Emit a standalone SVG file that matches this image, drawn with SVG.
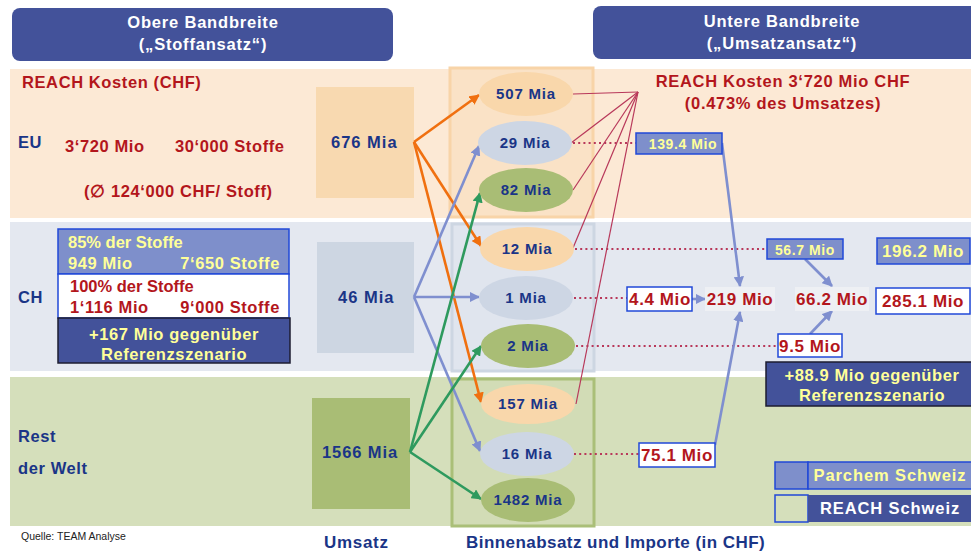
<svg xmlns="http://www.w3.org/2000/svg" width="971" height="553" viewBox="0 0 971 553">
<defs>
<marker id="mo" viewBox="0 0 10 10" refX="9" refY="5" markerWidth="4" markerHeight="4" orient="auto" markerUnits="strokeWidth"><path d="M0,0 L10,5 L0,10 z" fill="#f07010"/></marker>
<marker id="mb" viewBox="0 0 10 10" refX="9" refY="5" markerWidth="4" markerHeight="4" orient="auto" markerUnits="strokeWidth"><path d="M0,0 L10,5 L0,10 z" fill="#7f8fcf"/></marker>
<marker id="mg" viewBox="0 0 10 10" refX="9" refY="5" markerWidth="4" markerHeight="4" orient="auto" markerUnits="strokeWidth"><path d="M0,0 L10,5 L0,10 z" fill="#2e9a5e"/></marker>
</defs>
<style>
text{font-family:"Liberation Sans",Arial,sans-serif;font-weight:bold}
.hdr{fill:#43529a}
.ht{fill:#fff;font-size:16.5px;text-anchor:middle;letter-spacing:0.8px}
.navy{fill:#1a3587}
.red{fill:#b3161c}
.yel{fill:#ffff99}
.wh{fill:#fff}
.ell{font-size:15px;text-anchor:middle;fill:#1a3587;letter-spacing:0.8px}
.big{font-size:16.5px;letter-spacing:0.6px}
.mid{font-size:17px;text-anchor:middle;letter-spacing:0.6px}
.sm{font-size:14px;text-anchor:middle;letter-spacing:0.6px}
.lo{stroke:#f07010;stroke-width:2.6;fill:none;marker-end:url(#mo)}
.lb{stroke:#7f8fcf;stroke-width:2.6;fill:none;marker-end:url(#mb)}
.lg{stroke:#2e9a5e;stroke-width:2.6;fill:none;marker-end:url(#mg)}
.lr{stroke:#b8385a;stroke-width:1.2;fill:none}
.ld{stroke:#b8385a;stroke-width:2;fill:none;stroke-dasharray:2 3.2}
.bx1{fill:#7e8fcb;stroke:#2048d8;stroke-width:1.5}
.bx2{fill:#fff;stroke:#2048d8;stroke-width:1.5}
.bx3{fill:#43529a;stroke:#1c1c30;stroke-width:1.5}
.lt{fill:#eef0f4}
</style>

<g id="bands">
<rect x="10" y="69" width="961" height="149" fill="#fce9d5"/>
<rect x="10" y="222" width="961" height="149" fill="#e4e8f0"/>
<rect x="10" y="377" width="961" height="149" fill="#d5dfbb"/>
</g>

<g id="header-left">
<rect class="hdr" x="12" y="8" width="381" height="53" rx="8"/>
<text class="ht" x="203" y="28">Obere Bandbreite</text>
<text class="ht" x="203" y="50">(„Stoffansatz“)</text>
</g>
<g id="header-right">
<rect class="hdr" x="593" y="6" width="385" height="53" rx="8"/>
<text class="ht" x="782" y="27">Untere Bandbreite</text>
<text class="ht" x="782" y="49">(„Umsatzansatz“)</text>
</g>

<g id="col-eu"><rect x="450" y="68" width="143" height="149" fill="#fae2c6" stroke="#f8d4a8" stroke-width="3"/></g>
<g id="col-ch"><rect x="452" y="224" width="142" height="147" fill="#e0e5ee" stroke="#cdd6e2" stroke-width="3"/></g>
<g id="col-rw"><rect x="452" y="379" width="142" height="147" fill="#d2dcb6" stroke="#aabf78" stroke-width="3"/></g>

<g id="eu-labels">
<text class="red big" x="22" y="88">REACH Kosten (CHF)</text>
<text class="navy big" x="18" y="148">EU</text>
<text class="red big" x="65" y="152">3‘720 Mio</text>
<text class="red big" x="175" y="152">30‘000 Stoffe</text>
<text class="red big" x="84" y="197">(∅ 124‘000 CHF/ Stoff)</text>
</g>
<g id="eu-umsatz">
<rect x="316" y="87" width="98" height="111" fill="#f8d9b0"/>
<text class="navy big" x="331" y="148" style="letter-spacing:1px">676 Mia</text>
</g>

<g id="ch-label"><text class="navy big" x="18" y="303">CH</text></g>
<g id="ch-85">
<rect class="bx1" x="58" y="229" width="231" height="45"/>
<text class="yel big" x="68" y="248" style="letter-spacing:0">85% der Stoffe</text>
<text class="yel big" x="68" y="269">949 Mio</text>
<text class="yel big" x="280" y="269" text-anchor="end">7‘650 Stoffe</text>
</g>
<g id="ch-100">
<rect class="bx2" x="58" y="274" width="231" height="44"/>
<text class="red big" x="70" y="292" style="letter-spacing:0">100% der Stoffe</text>
<text class="red big" x="70" y="313">1‘116 Mio</text>
<text class="red big" x="280" y="313" text-anchor="end">9‘000 Stoffe</text>
</g>
<g id="ch-167">
<rect class="bx3" x="58" y="318" width="232" height="45"/>
<text class="yel big" x="174" y="340" text-anchor="middle">+167 Mio gegenüber</text>
<text class="yel big" x="174" y="360" text-anchor="middle">Referenzszenario</text>
</g>
<g id="ch-umsatz">
<rect x="317" y="242" width="97" height="111" fill="#cdd6e2"/>
<text class="navy big" x="338" y="303" style="letter-spacing:1px">46 Mia</text>
</g>

<g id="rw-label">
<text class="navy big" x="18" y="442">Rest</text>
<text class="navy big" x="18" y="474">der Welt</text>
</g>
<g id="rw-umsatz">
<rect x="312" y="398" width="98" height="111" fill="#a9bd75"/>
<text class="navy big" x="322" y="458" style="letter-spacing:0.9px">1566 Mia</text>
</g>

<g id="connectors">
<line class="lo" x1="414" y1="142" x2="479" y2="95"/>
<line class="lo" x1="414" y1="142" x2="481" y2="246"/>
<line class="lo" x1="414" y1="142" x2="481" y2="402"/>
<line class="lb" x1="414" y1="297" x2="479" y2="146"/>
<line class="lb" x1="414" y1="297" x2="479" y2="297"/>
<line class="lb" x1="414" y1="297" x2="480" y2="451"/>
<line class="lg" x1="410" y1="452" x2="480" y2="193"/>
<line class="lg" x1="410" y1="452" x2="481" y2="346"/>
<line class="lg" x1="410" y1="452" x2="481" y2="499"/>
<line class="lr" x1="638" y1="92" x2="573" y2="94"/>
<line class="lr" x1="638" y1="92" x2="571" y2="143"/>
<line class="lr" x1="638" y1="92" x2="573" y2="190"/>
<line class="lr" x1="638" y1="92" x2="573" y2="248"/>
<line class="lr" x1="638" y1="92" x2="576" y2="404"/>
<line class="ld" x1="573" y1="143" x2="636" y2="143"/>
<line class="ld" x1="575" y1="249" x2="767" y2="249"/>
<line class="ld" x1="574" y1="298" x2="627" y2="298"/>
<line class="ld" x1="576" y1="346" x2="778" y2="346"/>
<line class="ld" x1="574" y1="454" x2="639" y2="454"/>
<line class="lb" x1="722" y1="143" x2="740" y2="286"/>
<line class="lb" x1="692" y1="299" x2="705" y2="299"/>
<line class="lb" x1="715" y1="445" x2="740" y2="312"/>
<line class="lb" x1="805" y1="259" x2="832" y2="286"/>
<line class="lb" x1="810" y1="334" x2="832" y2="311"/>
</g>

<g id="e507"><ellipse cx="526" cy="94" rx="47" ry="22" fill="#f9d7ab"/><text class="ell" x="526" y="99">507 Mia</text></g>
<g id="e29"><ellipse cx="525" cy="143" rx="47" ry="22" fill="#cdd6e4"/><text class="ell" x="525" y="148">29 Mia</text></g>
<g id="e82"><ellipse cx="526" cy="190" rx="47" ry="22" fill="#a9bd75"/><text class="ell" x="526" y="195">82 Mia</text></g>
<g id="e12"><ellipse cx="527" cy="249" rx="47" ry="22" fill="#f9d7ab"/><text class="ell" x="527" y="254">12 Mia</text></g>
<g id="e1"><ellipse cx="526" cy="298" rx="47" ry="22" fill="#cdd6e4"/><text class="ell" x="526" y="303">1 Mia</text></g>
<g id="e2"><ellipse cx="528" cy="346" rx="47" ry="22" fill="#a9bd75"/><text class="ell" x="528" y="351">2 Mia</text></g>
<g id="e157"><ellipse cx="528" cy="404" rx="47" ry="20" fill="#f9d7ab"/><text class="ell" x="528" y="409">157 Mia</text></g>
<g id="e16"><ellipse cx="527" cy="454" rx="47" ry="22" fill="#cdd6e4"/><text class="ell" x="527" y="459">16 Mia</text></g>
<g id="e1482"><ellipse cx="528" cy="500" rx="47" ry="22" fill="#a9bd75"/><text class="ell" x="528" y="505">1482 Mia</text></g>

<g id="reach-title">
<text class="red" x="783" y="87" style="font-size:16.5px;text-anchor:middle;letter-spacing:0.7px">REACH Kosten 3‘720 Mio CHF</text>
<text class="red" x="783" y="109" style="font-size:16.5px;text-anchor:middle;letter-spacing:0.7px">(0.473% des Umsatzes)</text>
</g>

<g id="b139"><rect class="bx1" x="636" y="133" width="86" height="21"/><text class="yel sm" x="683" y="149">139.4 Mio</text></g>
<g id="b56"><rect class="bx1" x="767" y="239" width="76" height="20"/><text class="yel sm" x="805" y="255">56.7 Mio</text></g>
<g id="b196"><rect class="bx1" x="877" y="238" width="93" height="26"/><text class="yel mid" x="923" y="257">196.2 Mio</text></g>
<g id="b44"><rect class="bx2" x="627" y="287" width="65" height="24"/><text class="red mid" x="660" y="305">4.4 Mio</text></g>
<g id="b219"><rect class="lt" x="705" y="287" width="70" height="24"/><text class="red mid" x="740" y="305">219 Mio</text></g>
<g id="b66"><rect class="lt" x="795" y="287" width="74" height="24"/><text class="red mid" x="832" y="305">66.2 Mio</text></g>
<g id="b285"><rect class="bx2" x="876" y="288" width="94" height="26"/><text class="red mid" x="923" y="307">285.1 Mio</text></g>
<g id="b95"><rect class="bx2" x="778" y="334" width="64" height="23"/><text class="red mid" x="810" y="352">9.5 Mio</text></g>
<g id="b889"><rect class="bx3" x="766" y="362" width="210" height="44"/>
<text class="yel big" x="872" y="381" text-anchor="middle">+88.9 Mio gegenüber</text>
<text class="yel big" x="872" y="401" text-anchor="middle">Referenzszenario</text></g>
<g id="b751"><rect class="bx2" x="639" y="443" width="76" height="24"/><text class="red mid" x="677" y="461">75.1 Mio</text></g>

<g id="legend-parchem">
<rect class="bx1" x="775" y="462" width="33" height="27"/>
<rect x="808" y="462" width="165" height="27" fill="#7e8fcb" stroke="#2048d8" stroke-width="1.5"/>
<text class="yel big" x="890" y="481" text-anchor="middle" style="letter-spacing:0.9px">Parchem Schweiz</text>
</g>
<g id="legend-reach">
<rect x="775" y="495" width="33" height="27" fill="none" stroke="#2048d8" stroke-width="1.5"/>
<rect x="808" y="495" width="165" height="27" fill="#43529a"/>
<text class="wh big" x="890" y="514" text-anchor="middle" style="letter-spacing:0.9px">REACH Schweiz</text>
</g>

<g id="footer">
<text x="21" y="540" style="font-size:10.5px;font-weight:normal;fill:#222">Quelle: TEAM Analyse</text>
<text class="navy" x="324" y="548" style="font-size:17px;letter-spacing:0.7px">Umsatz</text>
<text class="navy" x="466" y="548" style="font-size:17px;letter-spacing:0.45px">Binnenabsatz und Importe (in CHF)</text>
</g>
</svg>
